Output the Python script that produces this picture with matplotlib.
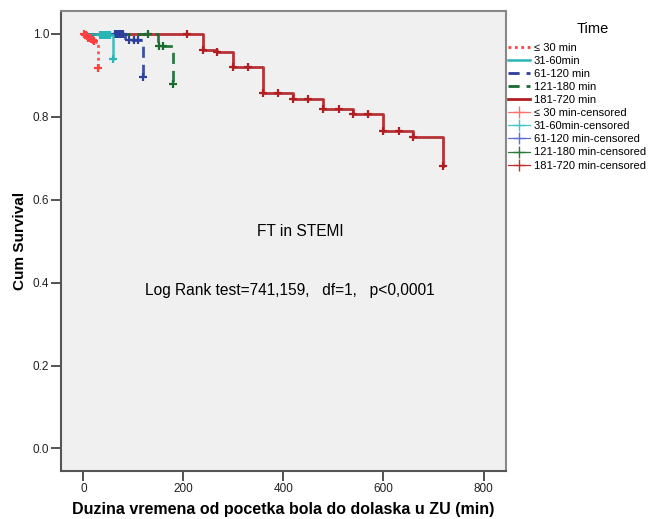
import matplotlib.pyplot as plt
from matplotlib.lines import Line2D

plt.rcParams['font.family'] = ['Liberation Sans', 'DejaVu Sans']

# Kaplan-Meier steps for each time group (minutes, cumulative survival)
t_30 = [0, 4, 7, 10, 13, 16, 19, 22, 25, 30]
s_30 = [1.0, 0.997, 0.994, 0.991, 0.989, 0.987, 0.985, 0.983, 0.981, 0.917]
c_30 = [2, 4, 6, 8, 10, 12, 14, 16, 19, 22, 30]

t_60 = [0, 34, 60]
s_60 = [1.0, 0.997, 0.940]
c_60 = [34, 38, 42, 46, 50, 54, 60]

t_120 = [0, 84, 120]
s_120 = [1.0, 0.986, 0.896]
c_120 = [64, 68, 72, 76, 80, 92, 102, 110, 120]

t_180 = [0, 150, 180]
s_180 = [1.0, 0.971, 0.880]
c_180 = [130, 151, 160, 180]

t_720 = [0, 240, 268, 300, 360, 420, 480, 540, 600, 660, 720]
s_720 = [1.0, 0.961, 0.957, 0.920, 0.858, 0.844, 0.818, 0.807, 0.766, 0.751, 0.681]
c_720 = [207, 240, 268, 300, 330, 360, 390, 420, 450, 480, 511, 540, 570,
         600, 631, 660, 720]

labels = ['\u2264 30 min', '31-60min', '61-120 min', '121-180 min', '181-720 min']
colors = ['#ff4040', '#2ab5b5', '#2c3f9a', '#1a6b30', '#b01e22']
cens_colors = ['#ff7070', '#40c8c8', '#6070d0', '#2a7a3a', '#c03030']
styles = [(0, (1, 1.3)), '-', (0, (4, 2.5)), (0, (4, 2.5)), '-']
widths = [2.0, 1.8, 2.0, 2.0, 2.0]

groups = [(t_30, s_30, c_30), (t_60, s_60, c_60), (t_120, s_120, c_120),
          (t_180, s_180, c_180), (t_720, s_720, c_720)]


def surv_at(times, surv, t):
    val = surv[0]
    for ti, si in zip(times, surv):
        if ti <= t:
            val = si
    return val


fig = plt.figure(figsize=(6.52, 5.19), dpi=100)
ax = fig.add_axes([0.0936, 0.0925, 0.6825, 0.8865])
ax.set_facecolor('#f0f0f0')

# draw the long group first so the short ones sit on top
for i in [4, 3, 2, 1, 0]:
    times, surv, cens = groups[i]
    ax.step(times, surv, where='post', color=colors[i], linestyle=styles[i],
            linewidth=widths[i], alpha=0.9)
    cy = [surv_at(times, surv, c) for c in cens]
    ax.plot(cens, cy, linestyle='none', marker='+', markersize=6,
            markeredgewidth=1.6, color=colors[i])

ax.text(433, 0.524, 'FT in STEMI', ha='center', va='center', fontsize=11.2)
ax.text(413, 0.38, 'Log Rank test=741,159,   df=1,   p<0,0001',
        ha='center', va='center', fontsize=11.2)

ax.set_xlim(-44.6, 845)
ax.set_ylim(-0.0545, 1.0555)
ax.set_xticks([0, 200, 400, 600, 800])
ax.set_yticks([0.0, 0.2, 0.4, 0.6, 0.8, 1.0])
ax.set_yticklabels(['0.0', '0.2', '0.4', '0.6', '0.8', '1.0'])
ax.tick_params(direction='out', length=7, width=1.3, labelsize=8.5, pad=1.5,
               colors='#444444', labelcolor='#222222', top=False, right=False)
for side in ['left', 'bottom']:
    ax.spines[side].set_color('#555555')
    ax.spines[side].set_linewidth(1.5)
for side in ['top', 'right']:
    ax.spines[side].set_color('#888888')
    ax.spines[side].set_linewidth(1.5)

ax.set_xlabel('Duzina vremena od pocetka bola do dolaska u ZU (min)',
              fontsize=11.5, fontweight='bold', labelpad=5)
ax.set_ylabel('Cum Survival', fontsize=11, fontweight='bold', labelpad=4)

handles = []
for i in range(5):
    handles.append(Line2D([], [], color=colors[i], linestyle=styles[i],
                          linewidth=widths[i]))
for i in range(5):
    handles.append(Line2D([], [], color=cens_colors[i], linestyle='-',
                          linewidth=0.9, marker='+', markersize=9,
                          markeredgewidth=1.0))
leg_labels = labels + [lb + '-censored' for lb in labels]
fig.legend(handles, leg_labels, loc='upper left',
           bbox_to_anchor=(0.7795, 0.918), frameon=False,
           fontsize=8, handlelength=2.0, handletextpad=0.3,
           labelspacing=0.28, borderaxespad=0, borderpad=0)
fig.text(593 / 652, 1 - 29 / 519, 'Time', ha='center', va='center',
         fontsize=10.5)

fig.savefig('out.png', dpi=100)
